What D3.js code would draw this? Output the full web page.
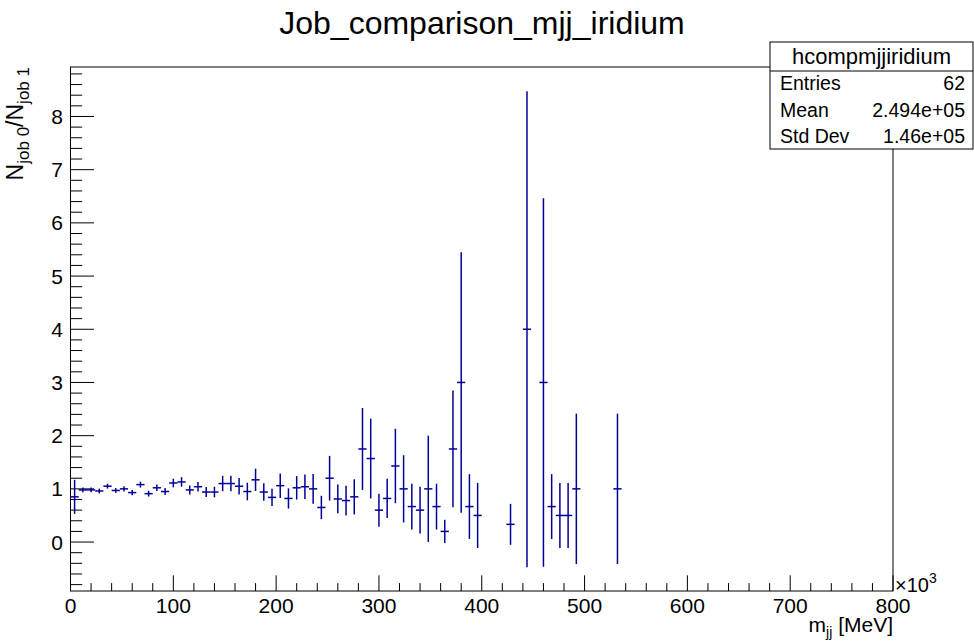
<!DOCTYPE html>
<html>
<head>
<meta charset="utf-8">
<script src="https://cdn.jsdelivr.net/npm/d3@7"></script>
<style>
  html, body { margin: 0; padding: 0; background: #ffffff; }
  svg { display: block; }
  text { font-family: "Liberation Sans", Arial, Helvetica, sans-serif; fill: #000; }
</style>
</head>
<body>
<svg id="chart" width="974" height="641"></svg>
<script>
// Bin centres (units of 10^3 MeV), ratio values and their errors
const binCenters = [4, 12, 20, 28, 36, 44, 52, 60, 68, 76, 84, 92, 100, 108, 116, 124, 132, 140, 148, 156,
  164, 172, 180, 188, 196, 204, 212, 220, 228, 236, 244, 252, 260, 268, 276, 284, 292, 300, 308, 316,
  324, 332, 340, 348, 356, 364, 372, 380, 388, 396, 428, 444, 460, 468, 476, 484, 492, 532];
const ratioValues = [0.85, 0.98, 0.98, 0.96, 1.05, 0.97, 1.00, 0.93, 1.08, 0.91, 1.02, 0.95, 1.11, 1.13, 0.98, 1.04, 0.94, 0.94, 1.10, 1.10,
  1.05, 0.95, 1.17, 0.94, 0.84, 1.06, 0.82, 1.02, 1.04, 1.00, 0.65, 1.20, 0.81, 0.78, 0.85, 1.75, 1.57, 0.60, 0.82, 1.43,
  1.00, 0.667, 0.60, 1.00, 0.667, 0.20, 1.75, 3.00, 0.667, 0.50, 0.333, 4.00, 3.00, 0.667, 0.50, 0.50, 1.00, 1.00];
const ratioErrors = [0.32, 0.045, 0.045, 0.045, 0.045, 0.045, 0.05, 0.05, 0.055, 0.055, 0.06, 0.065, 0.08, 0.09, 0.085, 0.09, 0.095, 0.10, 0.145, 0.145,
  0.155, 0.165, 0.21, 0.165, 0.16, 0.23, 0.19, 0.22, 0.23, 0.28, 0.22, 0.42, 0.27, 0.28, 0.33, 0.77, 0.75, 0.31, 0.37, 0.70,
  0.632, 0.43, 0.438, 1.00, 0.43, 0.219, 1.097, 2.449, 0.609, 0.612, 0.385, 4.472, 3.464, 0.609, 0.612, 0.612, 1.414, 1.414];
const binWidth = 8;

const xTickLabels = [0, 100, 200, 300, 400, 500, 600, 700, 800];
const yTickLabels = [0, 1, 2, 3, 4, 5, 6, 7, 8];

const statsTitle = "hcompmjjiridium";
const statsNames = ["Entries", "Mean", "Std Dev"];
const statsValues = ["62", "2.494e+05", "1.46e+05"];

const svg = d3.select("#chart");
const frame = { left: 70.5, right: 893, top: 67, bottom: 591 };

const x = d3.scaleLinear().domain([0, 800]).range([frame.left, frame.right]);
const y = d3.scaleLinear().domain([-0.92, 8.93]).range([frame.bottom, frame.top]);

const points = binCenters.map((c, i) => ({ c, v: ratioValues[i], e: ratioErrors[i] }));

// Title
svg.append("text")
  .attr("x", 482).attr("y", 34)
  .attr("text-anchor", "middle")
  .style("font-size", "32px")
  .text("Job_comparison_mjj_iridium");

// Frame
svg.append("rect")
  .attr("x", frame.left).attr("y", frame.top)
  .attr("width", frame.right - frame.left).attr("height", frame.bottom - frame.top)
  .attr("fill", "none").attr("stroke", "#000").attr("stroke-width", 1);

// X axis ticks (drawn inward)
const xMajorLen = 15.7, xMinorLen = 7.9;
const xMinor = d3.range(0, 801, 20);
svg.append("g").selectAll("line").data(xMinor).join("line")
  .attr("x1", d => x(d)).attr("x2", d => x(d))
  .attr("y1", frame.bottom)
  .attr("y2", d => frame.bottom - (d % 100 === 0 ? xMajorLen : xMinorLen))
  .attr("stroke", "#000").attr("stroke-width", 1);
svg.append("g").selectAll("text").data(xTickLabels).join("text")
  .attr("x", d => x(d)).attr("y", 613)
  .attr("text-anchor", "middle")
  .style("font-size", "21px")
  .text(d => d);

// Y axis ticks (drawn inward)
const yMajorLen = 23.5, yMinorLen = 11.7;
const yMinor = d3.range(-0.8, 8.81, 0.2).map(d => Math.round(d * 10) / 10);
svg.append("g").selectAll("line").data(yMinor).join("line")
  .attr("y1", d => y(d)).attr("y2", d => y(d))
  .attr("x1", frame.left)
  .attr("x2", d => frame.left + (Math.abs(d - Math.round(d)) < 1e-6 ? yMajorLen : yMinorLen))
  .attr("stroke", "#000").attr("stroke-width", 1);
svg.append("g").selectAll("text").data(yTickLabels).join("text")
  .attr("x", 63).attr("y", d => y(d))
  .attr("dy", "0.36em")
  .attr("text-anchor", "end")
  .style("font-size", "21px")
  .text(d => d);

// Axis exponent
const expo = svg.append("text").attr("x", 895).attr("y", 592).style("font-size", "20px");
expo.append("tspan").text("\u00d710");
expo.append("tspan").attr("dy", -9).style("font-size", "14px").text("3");

// X title
const xt = svg.append("text").attr("x", 893).attr("y", 632).attr("text-anchor", "end").style("font-size", "21px");
xt.append("tspan").text("m");
xt.append("tspan").attr("dy", 5).style("font-size", "14px").text("jj");
xt.append("tspan").attr("dy", -5).text(" [MeV]");

// Y title
const yt = svg.append("text")
  .attr("transform", "translate(23,67) rotate(-90)")
  .attr("text-anchor", "end")
  .style("font-size", "23px");
yt.append("tspan").text("N");
yt.append("tspan").attr("dy", 6).style("font-size", "17px").text("job 0");
yt.append("tspan").attr("dy", -6).text("/N");
yt.append("tspan").attr("dy", 6).style("font-size", "17px").text("job 1");

// Error bars
const marks = svg.append("g").attr("stroke", "#000099").attr("stroke-width", 1.5);
marks.selectAll("line.v").data(points).join("line").attr("class", "v")
  .attr("x1", d => x(d.c)).attr("x2", d => x(d.c))
  .attr("y1", d => y(d.v - d.e)).attr("y2", d => y(d.v + d.e));
marks.selectAll("line.h").data(points).join("line").attr("class", "h")
  .attr("x1", d => x(d.c - binWidth / 2)).attr("x2", d => x(d.c + binWidth / 2))
  .attr("y1", d => y(d.v)).attr("y2", d => y(d.v));

// Statistics box
const sb = { left: 770, right: 973, top: 42, head: 71, bottom: 149 };
svg.append("rect")
  .attr("x", sb.left).attr("y", sb.top)
  .attr("width", sb.right - sb.left).attr("height", sb.bottom - sb.top)
  .attr("fill", "#fff").attr("stroke", "#000").attr("stroke-width", 1);
svg.append("line")
  .attr("x1", sb.left).attr("x2", sb.right).attr("y1", sb.head).attr("y2", sb.head)
  .attr("stroke", "#000").attr("stroke-width", 1);
svg.append("text")
  .attr("x", (sb.left + sb.right) / 2).attr("y", 64)
  .attr("text-anchor", "middle").style("font-size", "22px")
  .text(statsTitle);
const rowY = [90, 116.5, 143];
svg.append("g").selectAll("text").data(statsNames).join("text")
  .attr("x", 780).attr("y", (d, i) => rowY[i])
  .style("font-size", "19.5px").text(d => d);
svg.append("g").selectAll("text").data(statsValues).join("text")
  .attr("x", 965).attr("y", (d, i) => rowY[i])
  .attr("text-anchor", "end")
  .style("font-size", "19.5px").text(d => d);
</script>
</body>
</html>
